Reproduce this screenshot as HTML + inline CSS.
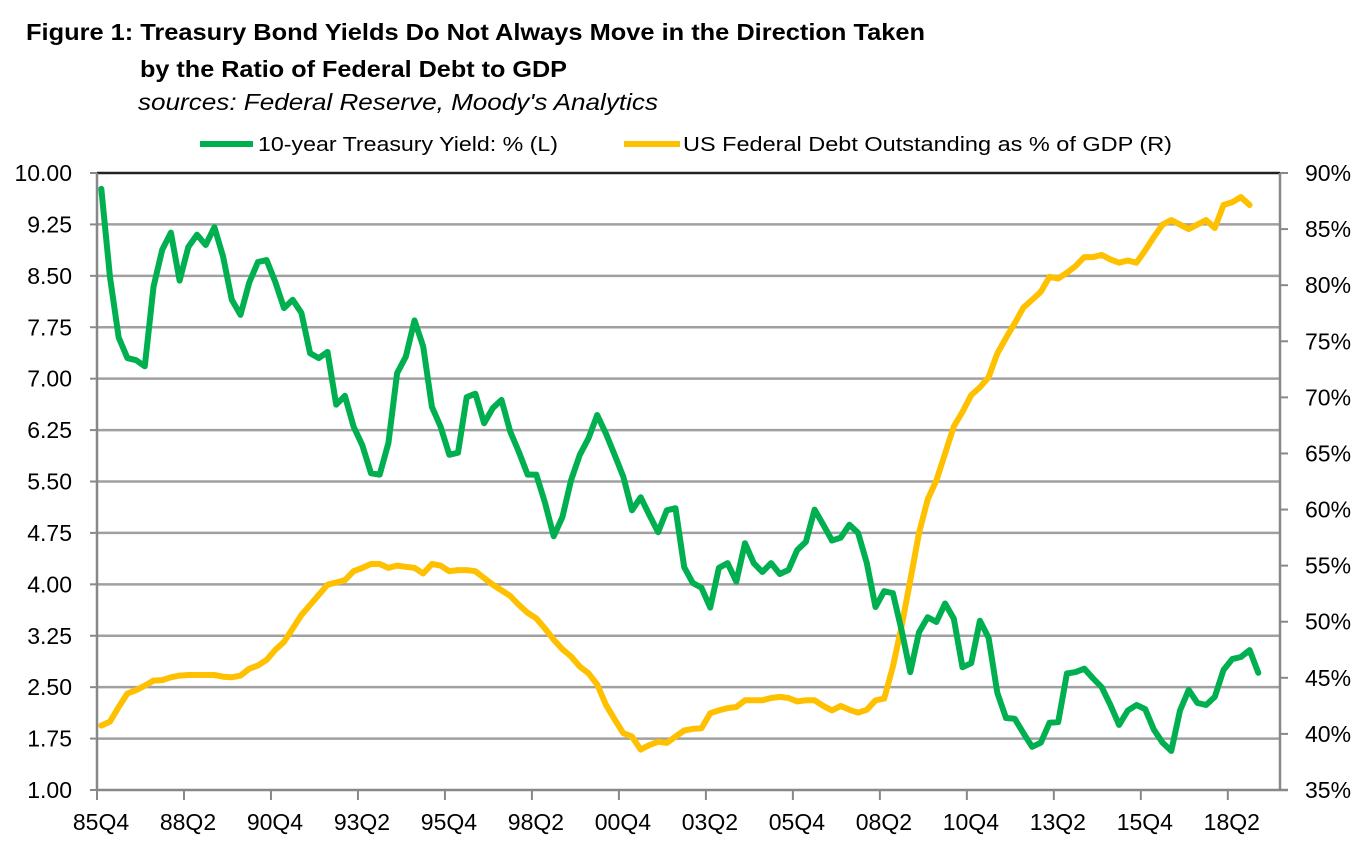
<!DOCTYPE html>
<html><head><meta charset="utf-8"><style>
html,body{margin:0;padding:0;background:#fff;}
svg{display:block;font-family:"Liberation Sans",sans-serif;}
</style></head><body>
<svg id="chart" width="1368" height="860" viewBox="0 0 1368 860">
<g>
<text x="26" y="40" font-size="23" font-weight="bold" textLength="899" lengthAdjust="spacingAndGlyphs">Figure 1: Treasury Bond Yields Do Not Always Move in the Direction Taken</text>
<text x="140" y="77" font-size="23" font-weight="bold" textLength="427" lengthAdjust="spacingAndGlyphs">by the Ratio of Federal Debt to GDP</text>
<text x="138" y="110" font-size="23" font-style="italic" textLength="520" lengthAdjust="spacingAndGlyphs">sources: Federal Reserve, Moody's Analytics</text>
</g>
<g>
<line x1="200" y1="144" x2="253" y2="144" stroke="#00b050" stroke-width="6"/>
<text x="258" y="151" font-size="20" textLength="300" lengthAdjust="spacingAndGlyphs">10-year Treasury Yield: % (L)</text>
<line x1="624" y1="144" x2="680" y2="144" stroke="#ffc000" stroke-width="6"/>
<text x="683" y="151" font-size="20" textLength="489" lengthAdjust="spacingAndGlyphs">US Federal Debt Outstanding as % of GDP  (R)</text>
</g>
<g id="grid"></g>
<g id="axes"></g>
<g id="series"></g>
</svg>
<script>
const leftTicks = [1.00,1.75,2.50,3.25,4.00,4.75,5.50,6.25,7.00,7.75,8.50,9.25,10.00];
const rightTicks = [35,40,45,50,55,60,65,70,75,80,85,90];
const xLabels = ["85Q4","88Q2","90Q4","93Q2","95Q4","98Q2","00Q4","03Q2","05Q4","08Q2","10Q4","13Q2","15Q4","18Q2"];
const yieldValues = [9.77,8.48,7.6,7.3,7.27,7.18,8.34,8.88,9.13,8.43,8.92,9.1,8.95,9.21,8.78,8.15,7.93,8.4,8.7,8.73,
8.41,8.03,8.15,7.96,7.37,7.3,7.39,6.62,6.75,6.3,6.03,5.62,5.6,6.06,7.08,7.32,7.85,7.47,6.59,6.3,
5.89,5.92,6.73,6.78,6.35,6.57,6.69,6.23,5.93,5.6,5.6,5.19,4.7,4.98,5.52,5.89,6.13,6.47,6.2,5.89,
5.57,5.08,5.27,5.01,4.76,5.08,5.11,4.25,4.02,3.95,3.66,4.24,4.31,4.04,4.6,4.31,4.18,4.31,4.15,4.21,
4.5,4.62,5.09,4.87,4.64,4.68,4.87,4.75,4.31,3.67,3.9,3.87,3.33,2.72,3.3,3.52,3.45,3.72,3.5,2.79,
2.85,3.47,3.22,2.42,2.05,2.04,1.83,1.63,1.69,1.98,1.99,2.7,2.72,2.77,2.63,2.5,2.24,1.95,2.16,2.24,
2.18,1.88,1.69,1.57,2.16,2.46,2.27,2.24,2.36,2.75,2.91,2.94,3.04,2.71];
const debtValues = [40.74,41.1,42.4,43.6,43.9,44.3,44.75,44.8,45.05,45.2,45.25,45.25,45.25,45.25,45.1,45.05,45.2,45.8,46.1,46.6,
47.5,48.2,49.4,50.6,51.5,52.4,53.3,53.5,53.7,54.5,54.8,55.15,55.15,54.8,55.0,54.9,54.8,54.3,55.15,55.0,
54.5,54.6,54.6,54.5,53.9,53.3,52.8,52.3,51.5,50.8,50.3,49.4,48.4,47.55,46.9,46.0,45.4,44.4,42.6,41.3,
40.06,39.76,38.6,39.0,39.3,39.2,39.76,40.3,40.45,40.5,41.85,42.1,42.3,42.4,43.0,43.0,43.0,43.2,43.3,43.2,
42.9,43.0,43.0,42.5,42.1,42.5,42.15,41.9,42.15,43.0,43.15,46.0,49.6,53.7,57.9,60.9,62.6,65.0,67.4,68.7,
70.2,70.9,71.8,73.9,75.3,76.6,78.0,78.7,79.4,80.75,80.6,81.1,81.7,82.5,82.5,82.7,82.3,82.0,82.2,82.0,
83.1,84.3,85.4,85.8,85.4,85.0,85.4,85.8,85.1,87.15,87.4,87.85,87.15];

const NS='http://www.w3.org/2000/svg';
const X0=97, X1=1280, Y0=173, Y1=790, NCAT=136;
const catW=(X1-X0)/NCAT;
const xPos=i=>X0+catW*(i+0.5);
const yLeft=v=>Y1-(v-1)/9*(Y1-Y0);
const yRight=p=>Y1-(p-35)/55*(Y1-Y0);
function mk(tag,attrs,parent,txt){const e=document.createElementNS(NS,tag);for(const k in attrs)e.setAttribute(k,attrs[k]);if(txt!==undefined)e.textContent=txt;parent.appendChild(e);return e;}
const grid=document.getElementById('grid'),axes=document.getElementById('axes'),series=document.getElementById('series');

leftTicks.forEach((v,k)=>{
  const y=yLeft(v);
  if(k>0){const g=mk('line',{x1:X0,y1:y,x2:X1,y2:y,stroke:k===leftTicks.length-1?'#222':'#a0a0a0','stroke-width':2.5},grid);
  
  }
  const t=mk('line',{x1:90,y1:y,x2:X0,y2:y,stroke:'#888','stroke-width':2},axes);
  
  
  const l=mk('text',{x:72,y:y+8,'font-size':23,'text-anchor':'end',fill:'#000'},axes,v.toFixed(2));
  
  
});
rightTicks.forEach(p=>{
  const y=yRight(p);
  const t=mk('line',{x1:X1,y1:y,x2:1288,y2:y,stroke:'#888','stroke-width':2},axes);
  
  
  const l=mk('text',{x:1305,y:y+8,'font-size':23,fill:'#000'},axes,p+'%');
  
  
});
let ax=mk('line',{x1:X0,y1:Y0,x2:X0,y2:Y1,stroke:'#888','stroke-width':2.5},axes);


ax=mk('line',{x1:X1,y1:Y0,x2:X1,y2:Y1,stroke:'#888','stroke-width':2.5},axes);


ax=mk('line',{x1:X0,y1:Y1,x2:X1+8,y2:Y1,stroke:'#888','stroke-width':2.5},axes);


xLabels.forEach((s,k)=>{
  const x=X0+catW*10*k;
  const t=mk('line',{x1:x,y1:Y1,x2:x,y2:800,stroke:'#888','stroke-width':2},axes);
  
  
  const l=mk('text',{x:x+4,y:830,'font-size':23,'text-anchor':'middle',fill:'#000'},axes,s);
  
  
});
const dDebt=debtValues.map((p,i)=>(i?'L':'M')+xPos(i).toFixed(1)+' '+yRight(p).toFixed(1)).join(' ');
const pd=mk('path',{d:dDebt,fill:'none',stroke:'#ffc000','stroke-width':6,'stroke-linejoin':'round','stroke-linecap':'round'},series);


const dYield=yieldValues.map((v,i)=>(i?'L':'M')+xPos(i).toFixed(1)+' '+yLeft(v).toFixed(1)).join(' ');
const py=mk('path',{d:dYield,fill:'none',stroke:'#00b050','stroke-width':6,'stroke-linejoin':'round','stroke-linecap':'round'},series);


</script>
</body></html>
